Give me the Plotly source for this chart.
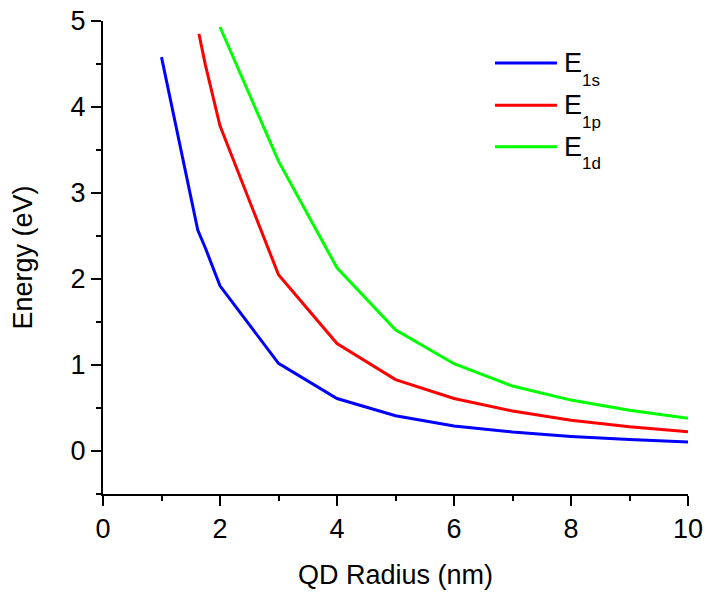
import plotly.graph_objects as go

# Data
r_1s = [1.0, 1.62, 1.75, 2.0, 3, 4, 5, 6, 7, 8, 9, 10]
e_1s = [4.58, 2.57, 2.36, 1.92, 1.02, 0.61, 0.41, 0.29, 0.22, 0.17, 0.135, 0.105]
r_1p = [1.64, 1.75, 2.0, 3, 4, 5, 6, 7, 8, 9, 10]
e_1p = [4.85, 4.49, 3.78, 2.05, 1.25, 0.83, 0.61, 0.465, 0.357, 0.283, 0.225]
r_1d = [2, 3, 4, 5, 6, 7, 8, 9, 10]
e_1d = [4.93, 3.37, 2.13, 1.41, 1.015, 0.755, 0.592, 0.473, 0.38]

series_main = ["E", "E", "E"]
series_sub = ["1s", "1p", "1d"]
colors = ["#0000FF", "#FF0000", "#00FF00"]

x_title = "QD Radius (nm)"
y_title = "Energy (eV)"

FONT = "Arial, Liberation Sans, sans-serif"
FS = 27

fig = go.Figure()
for xs, ys, c, m, s in zip([r_1s, r_1p, r_1d], [e_1s, e_1p, e_1d], colors, series_main, series_sub):
    fig.add_trace(go.Scatter(x=xs, y=ys, mode="lines", line=dict(color=c, width=3),
                             name=f"{m}<sub>{s}</sub>", showlegend=False))

# Custom legend (long line samples as in the reference)
leg_y = [0.911, 0.822, 0.734]
for yy, c, m, s in zip(leg_y, colors, series_main, series_sub):
    fig.add_shape(type="line", xref="paper", yref="paper", x0=0.670, x1=0.776, y0=yy, y1=yy,
                  line=dict(color=c, width=3))
    fig.add_annotation(xref="paper", yref="paper", x=0.785, y=yy, text=m, showarrow=False,
                       xanchor="left", yanchor="middle", font=dict(family=FONT, size=FS, color="black"))
    fig.add_annotation(xref="paper", yref="paper", x=0.815, y=yy - 0.036, text=s, showarrow=False,
                       xanchor="left", yanchor="middle", font=dict(family=FONT, size=17, color="black"))

axis_common = dict(showline=True, linecolor="black", linewidth=2, ticks="outside",
                   ticklen=10, tickwidth=2, tickcolor="black", showgrid=False, zeroline=False,
                   tickfont=dict(family=FONT, size=FS, color="black"), mirror=False, automargin=False)

fig.update_xaxes(range=[0, 10], dtick=2, tick0=0,
                 minor=dict(ticks="outside", ticklen=5, tickwidth=2, tickcolor="black", dtick=1, showgrid=False),
                 title=dict(text=x_title, font=dict(family=FONT, size=FS, color="black"), standoff=22),
                 **axis_common)
fig.update_yaxes(range=[-0.5, 5], dtick=1, tick0=0,
                 minor=dict(ticks="outside", ticklen=5, tickwidth=2, tickcolor="black", dtick=0.5, showgrid=False),
                 title=dict(text=y_title, font=dict(family=FONT, size=FS, color="black"), standoff=30),
                 **axis_common)

fig.update_layout(width=706, height=593, margin=dict(l=103, r=18, t=21, b=99),
                  plot_bgcolor="white", paper_bgcolor="white", showlegend=False)

fig.write_html("out.html")
